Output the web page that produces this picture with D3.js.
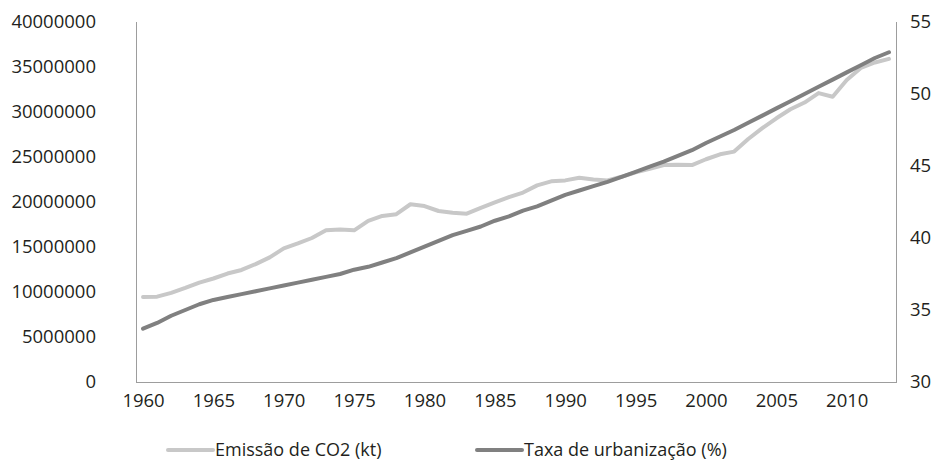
<!DOCTYPE html>
<html>
<head>
<meta charset="utf-8">
<script src="https://cdn.jsdelivr.net/npm/d3@7"></script>
<style>
  body { margin: 0; background: #fff; }
  svg { display: block; }
  text { font-family: "Open Sans", sans-serif; fill: #231f20; }
</style>
</head>
<body>
<div id="chart"></div>
<script>
var years = d3.range(1960, 2014);

// Emissão de CO2 (kt), eixo esquerdo
var co2 = [
  9450000, 9480000, 9900000, 10450000, 11050000, 11500000, 12050000, 12450000, 13100000, 13850000,
  14850000, 15400000, 16000000, 16850000, 16950000, 16850000, 17900000, 18450000, 18650000, 19750000,
  19550000, 19000000, 18800000, 18700000, 19350000, 19950000, 20550000, 21050000, 21850000, 22300000,
  22400000, 22700000, 22500000, 22400000, 22800000, 23300000, 23700000, 24100000, 24150000, 24100000,
  24750000, 25300000, 25600000, 27000000, 28200000, 29300000, 30300000, 31050000, 32100000, 31700000,
  33550000, 34900000, 35500000, 35900000
];

// Taxa de urbanização (%), eixo direito
var urban = [
  33.7, 34.1, 34.6, 35.0, 35.4, 35.7, 35.9, 36.1, 36.3, 36.5,
  36.7, 36.9, 37.1, 37.3, 37.5, 37.8, 38.0, 38.3, 38.6, 39.0,
  39.4, 39.8, 40.2, 40.5, 40.8, 41.2, 41.5, 41.9, 42.2, 42.6,
  43.0, 43.3, 43.6, 43.9, 44.25, 44.6, 44.95, 45.3, 45.7, 46.1,
  46.6, 47.05, 47.5, 48.0, 48.5, 49.0, 49.5, 50.0, 50.5, 51.0,
  51.5, 52.0, 52.5, 52.9
];

var leftTicks = [0, 5000000, 10000000, 15000000, 20000000, 25000000, 30000000, 35000000, 40000000];
var rightTicks = [30, 35, 40, 45, 50, 55];
var xTicks = [1960, 1965, 1970, 1975, 1980, 1985, 1990, 1995, 2000, 2005, 2010];

var seriesNames = ['Emissão de CO2 (kt)', 'Taxa de urbanização (%)'];
var seriesColors = ['#c8c8c8', '#808080'];

var width = 940, height = 463;
var plot = { left: 136, right: 896, top: 22, bottom: 382 };

var svg = d3.select('#chart').append('svg')
    .attr('width', width)
    .attr('height', height);

var x = d3.scalePoint()
    .domain(years)
    .range([plot.left, plot.right])
    .padding(0.5);

var yLeft = d3.scaleLinear()
    .domain([0, 40000000])
    .range([plot.bottom, plot.top]);

var yRight = d3.scaleLinear()
    .domain([30, 55])
    .range([plot.bottom, plot.top]);

// eixos
var axisColor = '#9d9d9d';

svg.append('path')
    .attr('d', 'M' + plot.left + ',' + plot.top + 'V' + plot.bottom + 'H' + plot.right + 'V' + plot.top)
    .attr('fill', 'none')
    .attr('stroke', axisColor)
    .attr('stroke-width', 1)
    .attr('shape-rendering', 'crispEdges');

var gLeft = svg.append('g')
    .attr('transform', 'translate(' + plot.left + ',0)')
    .call(d3.axisLeft(yLeft).tickValues(leftTicks).tickSize(0).tickPadding(40).tickFormat(d3.format('d')));

var gRight = svg.append('g')
    .attr('transform', 'translate(' + plot.right + ',0)')
    .call(d3.axisRight(yRight).tickValues(rightTicks).tickSize(0).tickPadding(14).tickFormat(d3.format('d')));

var gBottom = svg.append('g')
    .attr('transform', 'translate(0,' + plot.bottom + ')')
    .call(d3.axisBottom(x).tickValues(xTicks).tickSize(0).tickPadding(12));

[gLeft, gRight, gBottom].forEach(function(g) {
  g.select('.domain').remove();
  g.selectAll('text')
      .style('font-family', '"Open Sans", sans-serif')
      .style('font-size', '18.5px')
      .attr('fill', '#231f20');
});

// linhas
var lineLeft = d3.line()
    .x(function(d, i) { return x(years[i]); })
    .y(function(d) { return yLeft(d); });

var lineRight = d3.line()
    .x(function(d, i) { return x(years[i]); })
    .y(function(d) { return yRight(d); });

svg.append('path')
    .datum(co2)
    .attr('fill', 'none')
    .attr('stroke', seriesColors[0])
    .attr('stroke-width', 4)
    .attr('stroke-linejoin', 'round')
    .attr('stroke-linecap', 'round')
    .attr('d', lineLeft);

svg.append('path')
    .datum(urban)
    .attr('fill', 'none')
    .attr('stroke', seriesColors[1])
    .attr('stroke-width', 4)
    .attr('stroke-linejoin', 'round')
    .attr('stroke-linecap', 'round')
    .attr('d', lineRight);

// legenda
var legendX = [168, 477];
var legend = svg.selectAll('.legend')
    .data(seriesNames)
    .enter()
    .append('g')
    .attr('class', 'legend')
    .attr('transform', function(d, i) { return 'translate(' + legendX[i] + ',450)'; });

legend.append('line')
    .attr('x1', 0)
    .attr('x2', 45)
    .attr('stroke', function(d, i) { return seriesColors[i]; })
    .attr('stroke-width', 4)
    .attr('stroke-linecap', 'round');

legend.append('text')
    .attr('x', 47)
    .attr('dy', '0.32em')
    .style('font-size', '18px')
    .text(function(d) { return d; });
</script>
</body>
</html>
